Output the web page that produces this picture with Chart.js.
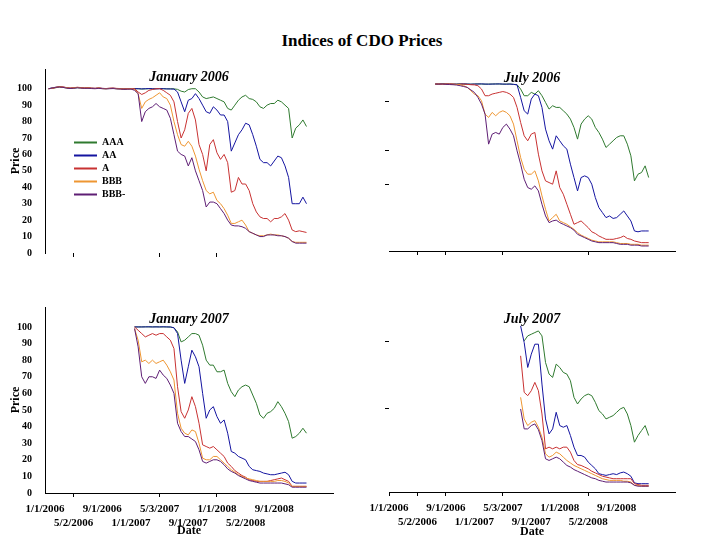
<!DOCTYPE html>
<html>
<head>
<meta charset="utf-8">
<script src="https://cdn.jsdelivr.net/npm/chart.js@4.4.0/dist/chart.umd.min.js"></script>
<style>
  html, body { margin: 0; padding: 0; background: #fff; }
  #wrap { position: relative; width: 720px; height: 540px; overflow: hidden; }
  #wrap canvas { position: absolute; left: 0; top: 0; }
  #mainTitle { position: absolute; left: 0; top: 31px; width: 724px; text-align: center;
    font: bold 17px "Liberation Serif", "Times New Roman", serif; line-height: 20px; color: #000; }
</style>
</head>
<body>
<div id="wrap">
  <div id="mainTitle">Indices of CDO Prices</div>
  <canvas id="tl" width="720" height="540"></canvas>
  <canvas id="tr" width="720" height="540"></canvas>
  <canvas id="bl" width="720" height="540"></canvas>
  <canvas id="br" width="720" height="540"></canvas>
</div>
<script>
// months since 1/1/2006
const months = [0.5,1,1.5,2,2.5,3,3.5,4,4.5,5,5.5,6,6.5,7,7.5,8,8.5,9,9.5,10,10.5,11,11.5,12,
  12.5,13,13.5,14,14.5,15,15.5,16,16.5,17,17.5,18,18.5,19,19.5,20,20.5,21,21.5,22,22.5,23,23.5,24,
  24.5,25,25.5,26,26.5,27,27.5,28,28.5,29,29.5,30,30.5,31,31.5,32,32.5,33,33.5,34,34.5,35,35.5,36,36.5];

const dateTickMonths = [0, 4, 8, 12, 16, 20, 24, 28, 32];
const dateTickLabels = ['1/1/2006', '5/2/2006', '9/1/2006', '1/1/2007', '5/3/2007',
  '9/1/2007', '1/1/2008', '5/2/2008', '9/1/2008'];
const priceTicks = [0, 10, 20, 30, 40, 50, 60, 70, 80, 90, 100];
const ratings = ['AAA', 'AA', 'A', 'BBB', 'BBB-'];
const ratingColors = ['#2f7a2f', '#1414a0', '#c83232', '#ee9632', '#5e1e74'];

// each series ends at the last month; earlier months are absent
const jan06AAA = [100,100.3,100.6,101,100.8,100.5,100.2,100.4,100.6,100.5,100.3,100.4,100.2,100.1,100.3,100.1,100,100.1,100.2,100,100,99.9,100,100,
  100,100,99.8,99.9,100,99.9,100,100.1,100,99.9,100,99.9,99.6,
  98.5,98,99.5,100,100,98,95,94,94.5,95,94,93,92,88,87,90,93,95,96,94,93.5,92,89,88,90,91,91,93,92,90,88,70,76,78,81,77];
const jan06AA = [100,100.5,100.9,101.2,101,100.6,100.3,100.5,100.7,100.6,100.4,100.5,100.3,100.2,100.4,100.2,100.1,100.2,100.3,100.1,100,99.8,99.9,100,
  100,100,99.9,100,100.1,100,99.9,100,100,99.9,99.8,99.8,
  98,92,86,93,94,97,94,90,86,85,89,87,84,84,80,62,67,72,75,79,78,72,65,57,55,55,53,56,59,58,53,46,30,30,30,34,30];
const jan06A = [100,100.2,100.7,101.3,101.1,100.7,100.4,100.6,100.9,100.7,100.5,100.6,100.4,100.3,100.5,100.2,100.1,100.3,100.4,100.2,100.1,99.9,100,100,
  100,98,96.5,97.5,99,99.5,100,100,99,97.5,96,92,80,70,75,85,88,81,66,60,50,66,69,61,57,60,55,37,38,46,42,42,38,30,25,
  22,21,21,19,21,21,22,24,20,14,13,13.5,13,12.5];
const jan06BBB = [100,100.3,100.9,101.2,100.9,100.6,100.2,100.5,100.8,100.5,100.3,100.5,100.2,100.1,100.4,100.1,100,100.2,100.2,100,99.9,99.7,99.8,99.9,
  99.5,97,88,92,93.5,94.5,96,97.5,95,94,90,80,72,66,65,68,65,59,51,44,38,36,37,32,30,27,23,18,18,19,20,17,13,12,11,
  10.5,10.5,11,11.5,11,11,10.5,10,9,7,6.5,6.5,6.5,6.5];
const jan06BBBm = [100,100.4,100.8,101.1,100.8,100.4,100.1,100.3,100.6,100.4,100.2,100.3,100.1,100,100.2,100,99.9,100,100.1,99.9,99.8,99.6,99.7,99.8,
  99,97,80,86,88,89,91,89,88,87,82,72,62,60,59,53,58,50,44,38,28,31,31,30,27,24,20,17,16.5,16.5,16,15,13,12,11,
  10,10,11,11,11,10.5,10.5,10,9,7,6,6,6,6];

const jul06AAA = [100,100,100.2,100.1,100,99.9,100,100.1,100,100,99.9,100,100.1,100,99.9,100,100,100.1,100,99.9,100,100,99.8,99.6,
  97,93,93,95,94,96,93,89,85,87,86,86,84,82,79,74,67,76,79,81,79,74,71,67,62,64,66,68,69,69,64,57,42,46,47,51,44];
const jul06AA = [100,100.1,100,100.2,100,100,99.9,100,100.1,100,99.9,100,100,100.1,100,99.9,100,100,100.1,100,99.9,100,99.8,99.5,
  92,84,82,91,94,93,86,73,66,61,69,66,63,61,52,44,36,44,45,44,40,32,26,23,20,21,19.5,20,22,24,21,18,12,11.5,12,12,12];
const jul06A = [100,100,99.9,100,100.1,100,99.8,99.9,100,99.8,99.6,99.5,
  99,97,93,93,94,94.5,95,95.5,95,94,92,86,77,69,66,70,71,58,48,42,41,40,48,38,34,28,22,16,17,18,16,14,11.5,10.5,9,
  8,7,7,7,7.5,8,9,7.5,7,6,5.5,5,5,5];
const jul06BBB = [100,100,99.9,100,99.8,99.9,99.7,99.6,
  99,98,96,94,93,90,82,80,83,81,83,84,83,81,76,66,56,49,46,46,48,42,33,25,18,20,22,18,17,16,14.5,13,11,9.5,8.5,
  7.5,6.5,6,5.5,5.5,5.5,5.5,5.5,5,4.5,4.5,4.5,4,4,4,3.5,3.5,3.5];
const jul06BBBm = [100,99.9,100,99.8,99.7,99.6,99.4,99,
  98.5,98,96.5,95,92,88,82,64,70,71,70,74,76,73,69,60,52,43,38,37,39,36,28,21,17,18,18.5,17,16,15,14,12.5,10,9,8,
  7,6,5.5,5,5,5,5,5,4.5,4,4,4,3.5,3.5,3.5,3,3,3];

const jan07AAA = [100,100,100,100.1,100,100,100.1,100,100,100,99.9,99.5,97,91,92,94,96,96,95,89,80,77,77,73,73,
  74,66,61,58,62,64,65,64,59,54,47,45,48,49,51,55,52,48,43,33,34,36,39,36];
const jan07AA = [100,100,100,100,100.1,100,100,100,100.1,100,100,99.5,96,80,66,76,86,82,76,60,45,50,52,46,42,
  44,36,25,24,22,21,20,16,14,13.5,13,12,11.5,11,11,11.5,12,12.5,11,7,6,6,6,6];
const jan07A = [100,98,96,94,95,96,95,96,96,94,92,87,64,49,45,50,58,52,42,29,28,27,28,26,24,
  22,18,16,13.5,12,10.5,9.5,8,7.5,7,7,7,7,7.5,8,8.5,9,8,7,4,4,4,4,4];
const jan07BBB = [99,92,79,80,78,80,78,79,80,77,73,68,48,39,36,35,38,37,30,21,20,20,22,22,20,
  18,16,14,12.5,11,10,9,8.5,8,7.5,7,7,7,7,7,7.5,7.5,7,6,4,4,4,4,4];
const jan07BBBm = [99,88,70,66,70,70,69,74,71,69,65,60,42,37,34,34,32.5,31,26,19,18,19,20,20,19,
  17,14.5,13,12,10.5,9.5,8.5,7.5,7,6.5,6,6,6,6,6,6,6,5.5,5,3.5,3.5,3.5,3.5,3.5];

const jul07AAA = [null,91,94,95,96,97,94,78,71,69,77,75,72,71,67,57,53,56,58,59,58,54,49,47,44,
  45,46,48,50,51,47,40,30,34,37,40,34];
const jul07AA = [100,90,75,83,89,89,65,44,35,38,48,40,39,40,34,27,22,22,21,18,16,14,11,10.5,10,
  10.5,11,10.5,11.5,12,11,9.5,5.5,5,5,5,5];
const jul07A = [82,60,58,61,66,61,47,26,27,26,27,26,27,27,24,19,16.5,16,15,14,12.5,11.5,10.5,9.5,9,
  8.5,8,8,8,8,8,8,5,4.5,4,4,4];
const jul07BBB = [57,44,40,42,43,39,33,23,21,22,24,23,21,19,17.5,16,15,14,13,12,11,10,9,8,7.5,
  7,7,7,7,6.5,6.5,6,4,4,3.5,3.5,3.5];
const jul07BBBm = [50,38,38,40,41,37.5,31,20,19,20,21,20,18,16,15,13.5,12.5,11.5,10.5,9.5,8.5,8,7,6.5,6,
  6,6,6,6,6,6,5.5,4,3.5,3.5,3.5,3.5];

const FONT = '"Liberation Serif", "Times New Roman", serif';

const panels = [
  { id: 'tl', title: 'January 2006', series: [jan06AAA, jan06AA, jan06A, jan06BBB, jan06BBBm],
    left: true, bottom: false, xLine: false, xMarks: [4, 16, 24], yMarks: null, legend: true,
    pad: { left: 8.4, right: 387, top: 60.6, bottom: 277 }, yWidth: 36.6, xHeight: 10, titleGap: -16.4 },
  { id: 'tr', title: 'July 2006', series: [jul06AAA, jul06AA, jul06A, jul06BBB, jul06BBBm],
    left: false, bottom: false, xLine: true, xMarks: [4, 8, 16, 28], yMarks: [89.4, 59.9, 40], legend: false,
    pad: { left: 379, right: 45, top: 61.9, bottom: 279 }, yWidth: 10, xHeight: 10, titleGap: -22.7 },
  { id: 'bl', title: 'January 2007', series: [jan07AAA, jan07AA, jan07A, jan07BBB, jan07BBBm],
    left: true, bottom: true, xLine: true, xMarks: [4, 16, 24], yMarks: null, legend: false,
    pad: { left: 8.4, right: 387, top: 302.6, bottom: 1.8 }, yWidth: 36.6, xHeight: 45.2, titleGap: -20.4 },
  { id: 'br', title: 'July 2007', series: [jul07AAA, jul07AA, jul07A, jul07BBB, jul07BBBm],
    left: false, bottom: true, xLine: true, xMarks: [0, 4, 8, 16, 28], yMarks: [90.5, 50.4], legend: false,
    pad: { left: 379, right: 45, top: 302.6, bottom: 0.8 }, yWidth: 10, xHeight: 47.2, titleGap: -21.4 }
];

// put the legend inside the first panel, under the line bundle
const legendSpot = {
  id: 'legendSpot',
  afterLayout(chart) {
    const lg = chart.legend;
    if (!lg || !chart.options.plugins.legend.display) return;
    lg.left = 71;
    lg.top = 134.5;
    lg.right = chart.chartArea.right;
    lg.bottom = chart.chartArea.bottom;
  }
};

function makePanel(p) {
  const datasets = p.series.map((vals, k) => {
    const offset = months.length - vals.length;
    return {
      label: ratings[k],
      data: vals.map((v, i) => ({ x: months[offset + i], y: v })),
      borderColor: ratingColors[k],
      backgroundColor: ratingColors[k],
      borderWidth: 1,
      pointRadius: 0,
      tension: 0,
      spanGaps: false,
      order: ratings.length - k
    };
  });

  const yAxis = p.left ? {
    min: 0, max: 112,
    afterBuildTicks: s => { s.ticks = priceTicks.map(v => ({ value: v })); },
    afterFit: s => { s.width = p.yWidth; },
    border: { display: true, color: '#000', width: 1 },
    grid: { display: false },
    ticks: { color: '#000', padding: 5, font: { family: FONT, size: 10, weight: 'bold' } },
    title: { display: true, text: 'Price', color: '#000', padding: 0,
      font: { family: FONT, size: 12, weight: 'bold' } }
  } : {
    min: 0, max: 112,
    afterBuildTicks: s => { s.ticks = p.yMarks.map(v => ({ value: v })); },
    afterFit: s => { s.width = p.yWidth; },
    border: { display: false },
    grid: { display: true, drawOnChartArea: false, drawTicks: true, tickLength: 4, tickColor: '#000' },
    ticks: { display: false }
  };

  new Chart(document.getElementById(p.id), {
    type: 'line',
    data: { datasets },
    plugins: [legendSpot],
    options: {
      responsive: false,
      animation: false,
      devicePixelRatio: 1,
      events: [],
      layout: { padding: p.pad },
      scales: {
        x: {
          type: 'linear', min: 0, max: 40.2,
          afterBuildTicks: s => { s.ticks = dateTickMonths.map(v => ({ value: v })); },
          afterFit: s => { s.height = p.xHeight; },
          border: { display: p.xLine, color: '#000', width: 1 },
          grid: {
            display: true, drawOnChartArea: false, drawTicks: true, tickLength: 4, tickWidth: 1,
            tickColor: ctx => (ctx.tick && p.xMarks.includes(ctx.tick.value)) ? '#000' : 'rgba(0,0,0,0)'
          },
          ticks: {
            display: p.bottom, autoSkip: false, maxRotation: 0, minRotation: 0, padding: 6, color: '#000',
            font: { family: FONT, size: 11, weight: 'bold' },
            callback: (v, i) => {
              const t = dateTickLabels[dateTickMonths.indexOf(v)];
              return i % 2 ? ['', t] : t;
            }
          },
          title: { display: p.bottom, text: 'Date', color: '#000', padding: 0,
            font: { family: FONT, size: 12, weight: 'bold' } }
        },
        y: yAxis
      },
      plugins: {
        tooltip: { enabled: false },
        title: {
          display: true, text: p.title, fullSize: false, align: 'center', color: '#000',
          font: { family: FONT, size: 14, style: 'italic', weight: 'bold' },
          padding: { top: 8, bottom: p.titleGap }
        },
        legend: {
          display: p.legend, position: 'chartArea', align: 'start',
          labels: {
            boxWidth: 23, boxHeight: 2, padding: 3, color: '#000', textAlign: 'left',
            font: { family: FONT, size: 10, weight: 'bold' },
            sort: (a, b) => a.datasetIndex - b.datasetIndex,
            generateLabels: chart => Chart.defaults.plugins.legend.labels.generateLabels(chart)
              .map(it => Object.assign(it, { lineWidth: 0 }))
          }
        }
      }
    }
  });
}

panels.forEach(makePanel);
</script>
</body>
</html>
